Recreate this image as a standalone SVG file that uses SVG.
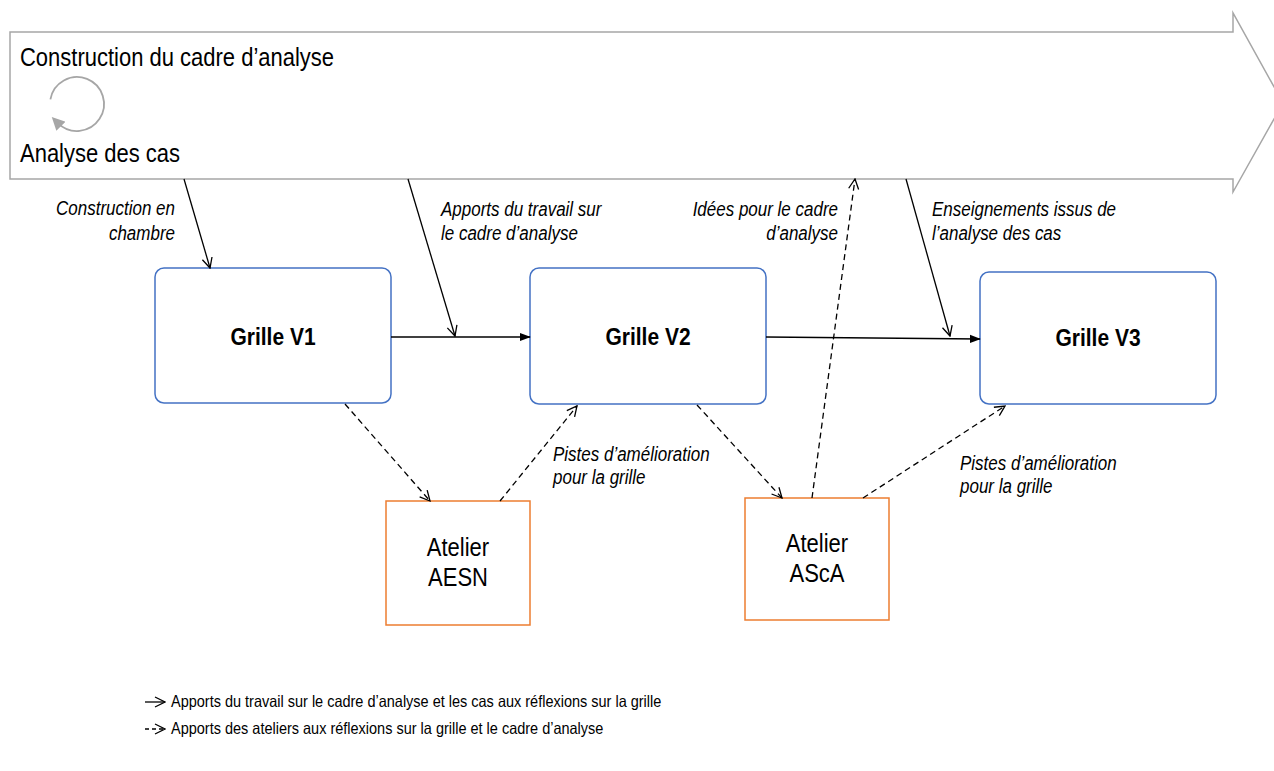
<svg xmlns="http://www.w3.org/2000/svg" width="1274" height="771" viewBox="0 0 1274 771">
<style>
.big{fill:#fff;stroke:#A6A6A6;stroke-width:1.5}
.grille{fill:#fff;stroke:#4472C4;stroke-width:1.5}
.atelier{fill:#fff;stroke:#ED7D31;stroke-width:1.5}
.t{font-family:"Liberation Sans",Arial,sans-serif;fill:#000}
.title{font-size:22px}
.gt{font-size:21px;font-weight:bold;text-anchor:middle}
.at{font-size:22px;text-anchor:middle}
.lab{font-size:17px;font-style:italic}
.end{text-anchor:end}
.leg{font-size:14.5px}
.solid{stroke:#000;stroke-width:1.3;fill:none}
.dash{stroke:#000;stroke-width:1.3;fill:none;stroke-dasharray:6 4}
</style>
<defs>
<marker id="open" viewBox="0 0 12 12" refX="11" refY="6" markerWidth="12" markerHeight="12" markerUnits="userSpaceOnUse" orient="auto">
<path d="M1,1 L11,6 L1,11" fill="none" stroke="#000" stroke-width="1.3"/>
</marker>
<marker id="fill" viewBox="0 0 12 12" refX="11" refY="6" markerWidth="11" markerHeight="11" markerUnits="userSpaceOnUse" orient="auto">
<path d="M0,1.5 L12,6 L0,10.5 Z" fill="#000"/>
</marker>
<marker id="grayhead" viewBox="0 0 12 12" refX="4" refY="6" markerWidth="13" markerHeight="13" markerUnits="userSpaceOnUse" orient="auto">
<path d="M0,0 L12,6 L0,12 Z" fill="#A6A6A6"/>
</marker>
</defs>

<g id="process-arrow">
<path class="big" d="M10,32 L1233,32 L1233,13 L1283,103 L1233,192 L1233,179 L10,179 Z"/>
<text class="t title" transform="translate(20,66) scale(1,1.15)">Construction du cadre d’analyse</text>
<path d="M50.4,99.3 A27,27 0 1 1 57.9,123.1" fill="none" stroke="#A6A6A6" stroke-width="1.8" marker-end="url(#grayhead)"/>
<text class="t title" transform="translate(20,162) scale(1,1.15)">Analyse des cas</text>
</g>

<g id="grille-v1">
<rect class="grille" x="155" y="268" width="236" height="135" rx="9"/>
<text class="t gt" transform="translate(273,345) scale(1,1.15)">Grille V1</text>
</g>
<g id="grille-v2">
<rect class="grille" x="530" y="268" width="236" height="136" rx="9"/>
<text class="t gt" transform="translate(648,345) scale(1,1.15)">Grille V2</text>
</g>
<g id="grille-v3">
<rect class="grille" x="980" y="272" width="236" height="132" rx="9"/>
<text class="t gt" transform="translate(1098,346) scale(1,1.15)">Grille V3</text>
</g>
<g id="atelier-aesn">
<rect class="atelier" x="386" y="501" width="144" height="124"/>
<text class="t at" transform="translate(458,556) scale(1,1.15)">Atelier</text>
<text class="t at" transform="translate(458,586) scale(1,1.15)">AESN</text>
</g>
<g id="atelier-asca">
<rect class="atelier" x="745" y="498" width="144" height="122"/>
<text class="t at" transform="translate(817,552) scale(1,1.15)">Atelier</text>
<text class="t at" transform="translate(817,582) scale(1,1.15)">AScA</text>
</g>

<g id="connectors">
<line class="solid" x1="184" y1="179" x2="210" y2="268" marker-end="url(#open)"/>
<line class="solid" x1="408" y1="179" x2="455" y2="336" marker-end="url(#open)"/>
<line class="solid" x1="391" y1="337" x2="530" y2="337" marker-end="url(#fill)"/>
<line class="solid" x1="766" y1="337" x2="980" y2="339" marker-end="url(#fill)"/>
<line class="solid" x1="906" y1="179" x2="950" y2="336" marker-end="url(#open)"/>
<line class="dash" x1="345" y1="404" x2="430" y2="501" marker-end="url(#open)"/>
<line class="dash" x1="500" y1="501" x2="577" y2="406" marker-end="url(#open)"/>
<line class="dash" x1="697" y1="405" x2="782" y2="498" marker-end="url(#open)"/>
<line class="dash" x1="812" y1="498" x2="855" y2="179" marker-end="url(#open)"/>
<line class="dash" x1="863" y1="498" x2="1005" y2="406" marker-end="url(#open)"/>
</g>

<g id="labels">
<text class="t lab end" transform="translate(175,215) scale(1,1.15)">Construction en</text>
<text class="t lab end" transform="translate(175,240) scale(1,1.15)">chambre</text>
<text class="t lab" transform="translate(441,216) scale(1,1.15)">Apports du travail sur</text>
<text class="t lab" transform="translate(441,240) scale(1,1.15)">le cadre d’analyse</text>
<text class="t lab end" transform="translate(838,216) scale(1,1.15)">Idées pour le cadre</text>
<text class="t lab end" transform="translate(838,240) scale(1,1.15)">d’analyse</text>
<text class="t lab" transform="translate(932,216) scale(1,1.15)">Enseignements issus de</text>
<text class="t lab" transform="translate(932,240) scale(1,1.15)">l’analyse des cas</text>
<text class="t lab" transform="translate(553,461) scale(1,1.15)">Pistes d’amélioration</text>
<text class="t lab" transform="translate(553,484) scale(1,1.15)">pour la grille</text>
<text class="t lab" transform="translate(960,470) scale(1,1.15)">Pistes d’amélioration</text>
<text class="t lab" transform="translate(960,493) scale(1,1.15)">pour la grille</text>
</g>

<g id="legend">
<line class="solid" x1="145" y1="702" x2="165" y2="702" marker-end="url(#open)"/>
<text class="t leg" transform="translate(171,707) scale(1,1.15)">Apports du travail sur le cadre d’analyse et les cas aux réflexions sur la grille</text>
<line class="dash" x1="145" y1="729" x2="165" y2="729" style="stroke-dasharray:4 3" marker-end="url(#open)"/>
<text class="t leg" transform="translate(171,734) scale(1,1.15)">Apports des ateliers aux réflexions sur la grille et le cadre d’analyse</text>
</g>
</svg>
